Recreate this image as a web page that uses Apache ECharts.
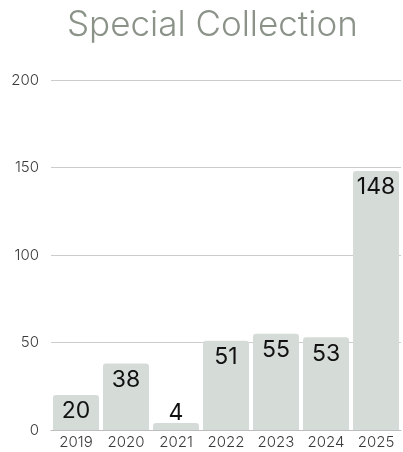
<!DOCTYPE html>
<html>
<head>
<meta charset="utf-8">
<style>
  html, body { margin: 0; padding: 0; background: #ffffff; }
  #chart { width: 403px; height: 452px; }
</style>
<script src="https://cdn.jsdelivr.net/npm/echarts@6/dist/echarts.min.js"></script>
</head>
<body>
<div id="chart"></div>
<script>
// Items added to the special collection per year
const years = ['2019', '2020', '2021', '2022', '2023', '2024', '2025'];
const counts = [20, 38, 4, 51, 55, 53, 148];
const yTicks = [0, 50, 100, 150, 200];

const chart = echarts.init(document.getElementById('chart'), null, { renderer: 'canvas' });

// Value labels sit inside the top of each bar; a bar too short for its
// label gets it just above instead.
const data = counts.map(function (v) {
  const item = { value: v };
  if (v < 10) {
    item.label = { position: 'top', distance: -2 };
  }
  return item;
});

chart.setOption({
  animation: false,
  title: {
    text: 'Special Collection',
    left: 62,
    top: 3,
    textStyle: {
      fontFamily: 'Inter',
      fontWeight: 300,
      fontSize: 35,
      color: '#8b9389'
    }
  },
  grid: { left: 51, right: 2, top: 80, bottom: 22 },
  xAxis: {
    type: 'category',
    data: years,
    axisTick: { show: false },
    axisLine: { show: true, lineStyle: { color: '#bdbdbd', width: 1 } },
    axisLabel: {
      color: '#3a3a3a',
      fontFamily: 'Inter',
      fontWeight: 300,
      fontSize: 15,
      margin: 5
    }
  },
  yAxis: {
    type: 'value',
    min: yTicks[0],
    max: yTicks[yTicks.length - 1],
    interval: 50,
    axisLine: { show: false },
    axisTick: { show: false },
    splitLine: { lineStyle: { color: '#cccccc', width: 1 } },
    axisLabel: {
      color: '#3a3a3a',
      fontFamily: 'Inter',
      fontWeight: 300,
      fontSize: 15,
      margin: 12
    }
  },
  series: [{
    type: 'bar',
    data: data,
    barCategoryGap: '8%',
    itemStyle: { color: '#d5dbd7', borderRadius: [3, 3, 0, 0] },
    label: {
      show: true,
      position: 'insideTop',
      distance: 5,
      color: '#111111',
      fontFamily: 'Inter',
      fontWeight: 400,
      fontSize: 23
    }
  }]
});
</script>
</body>
</html>
